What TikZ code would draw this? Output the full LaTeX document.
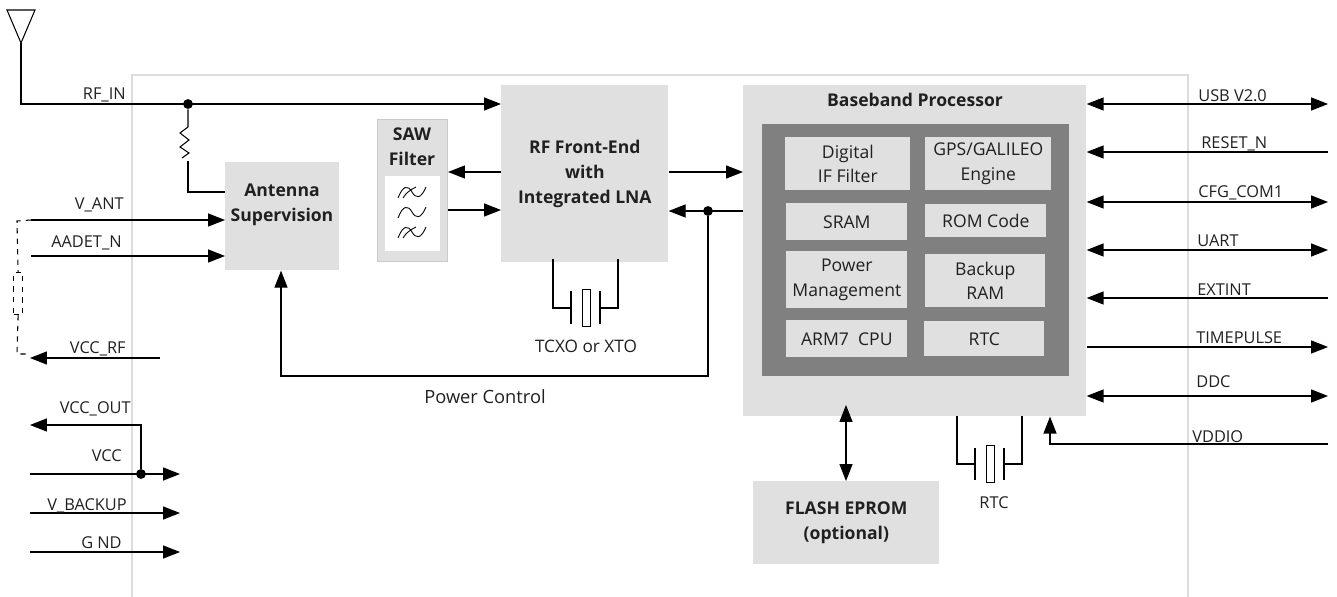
\documentclass[tikz,border=0pt]{standalone}
\usepackage{fontspec}
\setmainfont{Open Sans}
\usetikzlibrary{calc}
\usetikzlibrary{arrows.meta}
\definecolor{blockgray}{HTML}{E0E0E0}
\definecolor{coregray}{HTML}{808080}
\definecolor{framegray}{HTML}{DCDCDC}
\definecolor{sawgray}{HTML}{CACACA}
\definecolor{inkgray}{HTML}{202020}
\tikzset{
 >={Triangle[length=9.6pt,width=7.4pt]},
 sig/.style={line width=0.6pt},
 blockbox/.style={fill=blockgray,anchor=north west,inner sep=0pt},
 lbl/.style={font=\fontsize{9.3}{14}\selectfont,text=inkgray,inner sep=0pt},
 headlbl/.style={font=\fontsize{10}{14.2}\selectfont\bfseries,align=center,text=inkgray,inner sep=0pt},
 innerbox/.style={blockbox,font=\fontsize{10}{14}\selectfont,align=center,text=inkgray},
 junction/.style={circle,fill=black,inner sep=0pt,minimum size=5.6pt},
 xtalbox/.style={draw,line width=0.5pt,anchor=north west,inner sep=0pt,minimum width=0.16cm,minimum height=0.75cm},
}
\begin{document}
\begin{tikzpicture}[x=0.02cm,y=-0.02cm]
\useasboundingbox (0,0) rectangle (1337,597);
\draw[framegray,line width=0.85pt] (132,597)--(132,75)--(1188,75)--(1188,597);

\node[blockbox,minimum width=2.28cm,minimum height=2.16cm] (antsup) at (225,162) {};
\node[headlbl] (antsuptxt) at (282,204.5) {Antenna\\Supervision};
\node[blockbox,draw=sawgray,line width=0.6pt,minimum width=1.40cm,minimum height=2.84cm] (saw) at (377,119) {};
\node[headlbl] (sawtxt) at (412,146.5) {SAW\\Filter};
\node[anchor=north west,fill=white,inner sep=0pt,minimum width=1.10cm,minimum height=1.50cm] (sawwin) at (385,176) {};
\node[blockbox,headlbl,anchor=north west,minimum width=3.34cm,minimum height=3.54cm] (rf) at (501,85) {RF Front-End\\with\\Integrated LNA};
\node[blockbox,minimum width=6.86cm,minimum height=6.62cm] (bb) at (743,85) {};
\node[headlbl] (bbtxt) at (915,100) {Baseband Processor};
\node[anchor=north west,fill=coregray,inner sep=0pt,minimum width=6.14cm,minimum height=5.04cm] (core) at (762,124) {};
\node[innerbox,minimum width=2.50cm,minimum height=1.06cm] (dif) at (785,137) {Digital\\IF Filter};
\node[innerbox,minimum width=2.52cm,minimum height=1.06cm] (gps) at (925,137) {GPS/GALILEO\\Engine};
\node[innerbox,minimum width=2.42cm,minimum height=0.74cm] (sram) at (786,203) {SRAM};
\node[innerbox,minimum width=2.42cm,minimum height=0.66cm] (rom) at (925,204) {ROM Code};
\node[innerbox,minimum width=2.42cm,minimum height=1.14cm] (pwr) at (786,251) {Power\\Management};
\node[innerbox,minimum width=2.40cm,minimum height=1.06cm] (bkp) at (925,254) {Backup\\RAM};
\node[innerbox,minimum width=2.42cm,minimum height=0.74cm] (arm) at (786,320) {ARM7\ \ CPU};
\node[innerbox,minimum width=2.40cm,minimum height=0.70cm] (rtc) at (924,321) {RTC};
\node[blockbox,headlbl,anchor=north west,minimum width=3.72cm,minimum height=1.66cm] (flash) at (753,481) {FLASH EPROM\\(optional)};

\draw[sig] (7,10)--(35,10)--(21,43)--cycle;
\coordinate (ant) at (21,43);
\coordinate (rfin) at (21,104);
\node[junction] (jrf) at (188,104) {};
\draw[sig,->] (ant)--(rfin)--(rf.west |- rfin);
\coordinate (restop) at (188,127);
\coordinate (resbot) at (188,161);
\coordinate (resend) at (188,192);
\draw[sig] (jrf)--(restop)--(180,133)--(189,140)--(180,147)--(189,153)--(182,158);
\draw[sig] (resbot)--(resend)--(antsup.west |- resend);

\coordinate (vant) at (31,220);
\coordinate (aadet) at (31,256);
\draw[sig,->] (vant)--(antsup.west |- vant);
\draw[sig,->] (aadet)--(antsup.west |- aadet);
\node[draw,dashed,line width=0.7pt,anchor=north west,inner sep=0pt,minimum width=0.18cm,minimum height=0.84cm] (dashres) at (13,272) {};
\coordinate (dashtop) at (17,221);
\coordinate (dashbot) at (17,354);
\draw[dashed,line width=0.6pt] (vant)--(dashtop)--(dashres.north);
\draw[dashed,line width=0.6pt] (dashres.south)--(dashbot)--(28,354);
\coordinate (vccrfa) at (160,358);
\coordinate (vccrfb) at (30,358);
\draw[sig,->] (vccrfa)--(vccrfb);

\node[junction] (jvcc) at (141,474) {};
\coordinate (vccouta) at (141,425);
\coordinate (vccoutb) at (30,425);
\draw[sig,->] (jvcc)--(vccouta)--(vccoutb);
\coordinate (vcca) at (30,474);
\coordinate (vccb) at (180,474);
\draw[sig,->] (vcca)--(vccb);
\coordinate (bkpa) at (30,513);
\coordinate (bkpb) at (180,513);
\draw[sig,->] (bkpa)--(bkpb);
\coordinate (gnda) at (30,552);
\coordinate (gndb) at (180,552);
\draw[sig,->] (gnda)--(gndb);

\coordinate (sawup) at (0,172);
\coordinate (sawdn) at (0,210);
\draw[sig,->] (rf.west |- sawup)--(saw.east |- sawup);
\draw[sig,->] (saw.east |- sawdn)--(rf.west |- sawdn);
\draw[sig,->] (rf.east |- sawup)--(bb.west |- sawup);
\node[junction] (jpwr) at (708,211) {};
\coordinate (pwrback) at (0,211);
\draw[sig,->] (bb.west |- pwrback)--(rf.east |- pwrback);
\coordinate (pwra) at (708,376);
\coordinate (pwrb) at (281,376);
\draw[sig,->] (jpwr)--(pwra)--(pwrb)--(antsup.south -| pwrb);

\foreach \yy in {192,212,232}
 \draw[line width=0.5pt] (398,\yy+6) .. controls (403,\yy-7) and (408,\yy-7) .. (412,\yy) .. controls (416,\yy+7) and (421,\yy+7) .. (426,\yy-5);
\foreach \yy in {192,232}
 \draw[line width=0.5pt] (403,\yy+6) .. controls (406,\yy+1) and (410,\yy-2) .. (416,\yy-5);

\coordinate (xa) at (553,308);
\coordinate (xb) at (618,308);
\node[xtalbox] (xtal) at (582,289) {};
\coordinate (xpa) at (571,308);
\coordinate (xpb) at (600,308);
\draw[sig] (553,259)--(xa)--(xpa);
\draw[sig] (618,259)--(xb)--(xpb);
\draw[sig] (571,291)--(571,324);
\draw[sig] (600,291)--(600,324);

\coordinate (ya) at (957,464);
\coordinate (yb) at (1022,464);
\node[xtalbox] (rtcxtal) at (986,445) {};
\coordinate (ypa) at (975,464);
\coordinate (ypb) at (1004,464);
\draw[sig] (957,416)--(ya)--(ypa);
\draw[sig] (1022,416)--(yb)--(ypb);
\draw[sig] (975,448)--(975,480);
\draw[sig] (1004,448)--(1004,480);

\coordinate (bbflash) at (846,405);
\draw[sig,<->] (bbflash)--(flash.north -| bbflash);

\coordinate (usb) at (1328,104);
\coordinate (rst) at (1328,152);
\coordinate (cfg) at (1328,202);
\coordinate (uart) at (1328,250);
\coordinate (ext) at (1328,298);
\coordinate (tp) at (1328,347);
\coordinate (ddc) at (1328,396);
\coordinate (vio) at (1328,444);
\coordinate (vioc) at (1050,444);
\draw[sig,<->] (bb.east |- usb)--(usb);
\draw[sig,<-] (bb.east |- rst)--(rst);
\draw[sig,<->] (bb.east |- cfg)--(cfg);
\draw[sig,<->] (bb.east |- uart)--(uart);
\draw[sig,<-] (bb.east |- ext)--(ext);
\draw[sig,->] (bb.east |- tp)--(tp);
\draw[sig,<->] (bb.east |- ddc)--(ddc);
\draw[sig,->] (vio)--(vioc)--(bb.south -| vioc);

\node[lbl,anchor=base east] (lrfin) at (126,100) {RF\_IN};
\node[lbl,anchor=base east] (lvant) at (124,210) {V\_ANT};
\node[lbl,anchor=base east] (laadet) at (122,248) {AADET\_N};
\node[lbl,anchor=base east] (lvccrf) at (126,354) {VCC\_RF};
\node[lbl,anchor=base east] (lvccout) at (131,413) {VCC\_OUT};
\node[lbl,anchor=base east] (lvcc) at (122,461) {VCC};
\node[lbl,anchor=base east] (lbkp) at (127,510) {V\_BACKUP};
\node[lbl,anchor=base east] (lgnd) at (122,548) {G ND};
\node[lbl,font=\fontsize{10.4}{14}\selectfont] (lpwr) at (485,397) {Power Control};
\node[lbl,font=\fontsize{9.8}{14}\selectfont] (lxtal) at (586,346) {TCXO or XTO};
\node[lbl] (lrtc) at (994,503) {RTC};
\node[lbl,anchor=base west] (lusb) at (1198,102) {USB V2.0};
\node[lbl,anchor=base west] (lrst) at (1201,149) {RESET\_N};
\node[lbl,anchor=base west] (lcfg) at (1198,198) {CFG\_COM1};
\node[lbl,anchor=base west] (luart) at (1197,247) {UART};
\node[lbl,anchor=base west] (lext) at (1197,296) {EXTINT};
\node[lbl,anchor=base west] (ltp) at (1196,344) {TIMEPULSE};
\node[lbl,anchor=base west] (lddc) at (1196,387) {DDC};
\node[lbl,anchor=base west] (lvio) at (1192,442) {VDDIO};
\end{tikzpicture}
\end{document}
